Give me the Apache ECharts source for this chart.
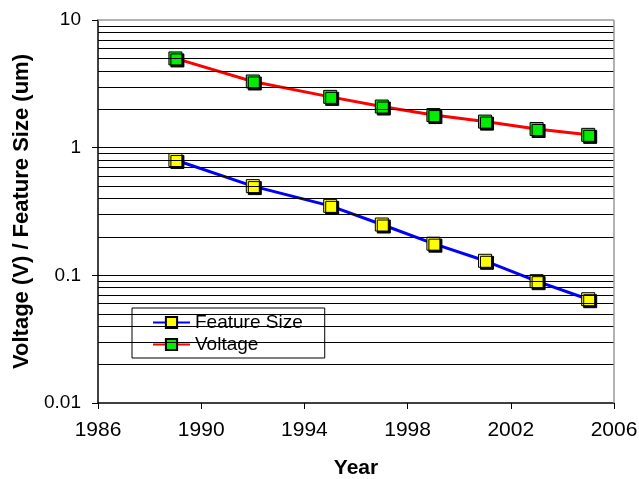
<!DOCTYPE html>
<html><head><meta charset="utf-8">
<script src="https://cdn.jsdelivr.net/npm/echarts@6/dist/echarts.min.js"></script>
<style>html,body{margin:0;padding:0;background:#fff}#c{width:639px;height:479px}</style>
</head><body><div id="c"></div>
<script>
const years = [1989, 1992, 1995, 1997, 1999, 2001, 2003, 2005];
const featureSize = [0.8, 0.5, 0.35, 0.25, 0.177, 0.13, 0.09, 0.065];
const voltage = [5.0, 3.3, 2.5, 2.1, 1.8, 1.6, 1.4, 1.26];
const gridValues = [0.02,0.03,0.04,0.05,0.06,0.07,0.08,0.09,0.1,0.2,0.3,0.4,0.5,0.6,0.7,0.8,0.9,1,2,3,4,5,6,7,8,9];
const yTicks = [0.01, 0.1, 1, 10];
const xTicks = [1986, 1990, 1994, 1998, 2002, 2006];

const font = 'Liberation Sans, Arial, sans-serif';
const chart = echarts.init(document.getElementById('c'), null, {renderer: 'canvas'});
const markerStyle = c => ({color: c, borderColor: '#000', borderWidth: 1, shadowColor: '#000', shadowOffsetX: 2, shadowOffsetY: 2, shadowBlur: 0});
chart.setOption({
  animation: false,
  backgroundColor: '#fff',
  grid: {left: 98, right: 25, top: 20, bottom: 76, outerBoundsMode: 'none', containLabel: false},
  legend: {
    left: 132, top: 308, orient: 'vertical', itemGap: 3,
    padding: [5, 22, 4, 20],
    borderColor: '#000', borderWidth: 1, backgroundColor: '#fff',
    itemWidth: 37, itemHeight: 14,
    itemStyle: {shadowColor: 'rgba(0,0,0,0)', shadowOffsetX: 0, shadowOffsetY: 0},
    lineStyle: {shadowColor: 'rgba(0,0,0,0)', shadowOffsetX: 0, shadowOffsetY: 0},
    textStyle: {fontFamily: font, fontSize: 19, lineHeight: 19, color: '#000'},
    data: ['Feature Size', 'Voltage']
  },
  xAxis: {
    type: 'value', min: xTicks[0], max: xTicks[xTicks.length-1], interval: 4,
    name: 'Year', nameLocation: 'middle', nameGap: 55,
    nameTextStyle: {fontFamily: font, fontSize: 21, fontWeight: 'bold', color: '#000'},
    axisLine: {lineStyle: {color: '#000', width: 1.5}},
    axisTick: {show: true, length: 6, lineStyle: {color: '#000'}},
    axisLabel: {fontFamily: font, fontSize: 21, color: '#000', margin: 17,
      formatter: v => String(v)},
    splitLine: {show: false}
  },
  yAxis: {
    type: 'log', logBase: 10, min: yTicks[0], max: yTicks[yTicks.length-1],
    name: 'Voltage (V) / Feature Size (um)', nameLocation: 'middle', nameGap: 60,
    nameTextStyle: {fontFamily: font, fontSize: 22, fontWeight: 'bold', color: '#000'},
    axisLine: {show: true, lineStyle: {color: '#000', width: 1.5}},
    axisTick: {show: true, length: 6, lineStyle: {color: '#000'}},
    axisLabel: {fontFamily: font, fontSize: 19, color: '#000', margin: 17,
      formatter: v => String(+v.toPrecision(3))},
    minorTick: {show: false},
    splitLine: {show: false}
  },
  series: [
    {
      name: 'grid', type: 'line', data: [], silent: true,
      markLine: {
        silent: true, symbol: 'none', label: {show: false},
        lineStyle: {color: '#000', width: 1, type: 'solid'},
        data: gridValues.map(v => ({yAxis: v})).concat([
          {yAxis: yTicks[yTicks.length-1], lineStyle: {color: '#999', width: 1.5}},
          {xAxis: xTicks[xTicks.length-1], lineStyle: {color: '#999', width: 1.5}}
        ])
      }
    },
    {
      name: 'Feature Size', type: 'line', data: years.map((y, i) => [y, featureSize[i]]),
      symbol: 'rect', symbolSize: 13,
      lineStyle: {color: '#0000ff', width: 3},
      itemStyle: markerStyle('#ffff00'), z: 3
    },
    {
      name: 'Voltage', type: 'line', data: years.map((y, i) => [y, voltage[i]]),
      symbol: 'rect', symbolSize: 13,
      lineStyle: {color: '#ff0000', width: 3},
      itemStyle: markerStyle('#00ee00'), z: 3
    }
  ]
});
</script></body></html>
